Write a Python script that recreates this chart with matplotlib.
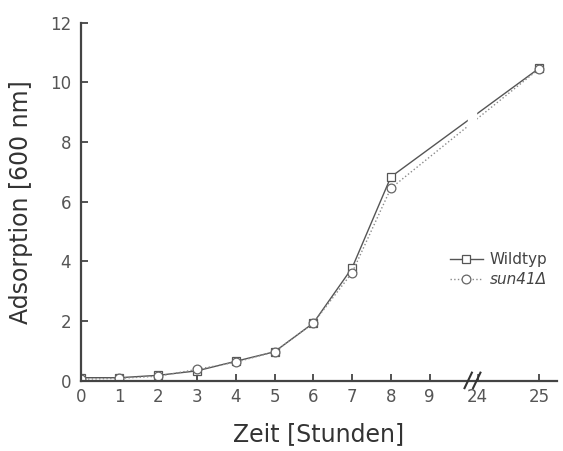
import matplotlib
matplotlib.use("Agg")
import matplotlib.pyplot as plt
import numpy as np

# growth curve, OD600 over time (hours)
hours = [0, 1, 2, 3, 4, 5, 6, 7, 8, 25]
wildtyp = [0.1, 0.1, 0.18, 0.33, 0.65, 0.97, 1.93, 3.78, 6.83, 10.47]
sun41 = [0.05, 0.08, 0.15, 0.38, 0.62, 0.97, 1.93, 3.62, 6.45, 10.45]
tick_hours = [0, 1, 2, 3, 4, 5, 6, 7, 8, 9, 24, 25]

# broken time axis: 0-9 h linear, then jump to 24 h
BREAK_AT = 10.1
OFFSET_24 = 10.24


def axis_pos(t):
    t = np.asarray(t, dtype=float)
    return np.where(t <= 9.5, t, OFFSET_24 + (t - 24) * 1.58)


plt.rcParams["font.family"] = "DejaVu Sans"

fig = plt.figure(figsize=(5.63, 4.51), dpi=100)
ax = fig.add_axes([0.1433, 0.1559, 0.8457, 0.7938])

ax.plot(axis_pos(hours), wildtyp, "-", color="#555555", lw=1.0,
        marker="s", ms=5.8, mfc="white", mec="#555555", mew=0.9, label="Wildtyp")
ax.plot(axis_pos(hours), sun41, ":", color="#8a8a8a", lw=1.0,
        marker="o", ms=6.3, mfc="white", mec="#666666", mew=0.9, label="sun41Δ")

# white gap in the curves where the axis is broken
ax.axvspan(BREAK_AT - 0.12, BREAK_AT + 0.1, ymin=0.01, ymax=1, color="white", zorder=2.2)

ax.set_xlim(0, 12.28)
ax.set_ylim(0, 12)
ax.set_yticks(range(0, 13, 2))
ax.set_xticks(axis_pos(tick_hours))
ax.set_xticklabels([str(h) for h in tick_hours])

for side in ("top", "right"):
    ax.spines[side].set_visible(False)
for side in ("left", "bottom"):
    ax.spines[side].set_color("#444444")
    ax.spines[side].set_linewidth(1.6)

ax.tick_params(axis="both", direction="in", length=5, width=1.3, color="#444444",
               labelsize=12, labelcolor="#555555")
ax.tick_params(axis="y", pad=7)
ax.tick_params(axis="x", pad=5)

# "//" break marks on the time axis
for dx in (-0.2, 0.02):
    ax.plot([BREAK_AT + dx, BREAK_AT + dx + 0.19], [-0.25, 0.27], color="#333333",
            lw=1.5, clip_on=False, zorder=3)

ax.set_xlabel("Zeit [Stunden]", fontsize=17, color="#333333", labelpad=12)
ax.set_ylabel("Adsorption [600 nm]", fontsize=17, color="#333333", labelpad=12)

leg = ax.legend(loc="center left", bbox_to_anchor=(0.775, 0.31), frameon=False,
                fontsize=11, handlelength=2.2, handletextpad=0.4, labelspacing=0.35,
                borderaxespad=0, borderpad=0)
for txt in leg.get_texts():
    txt.set_color("#444444")
leg.get_texts()[1].set_fontstyle("italic")

fig.savefig("out.png", dpi=100)
